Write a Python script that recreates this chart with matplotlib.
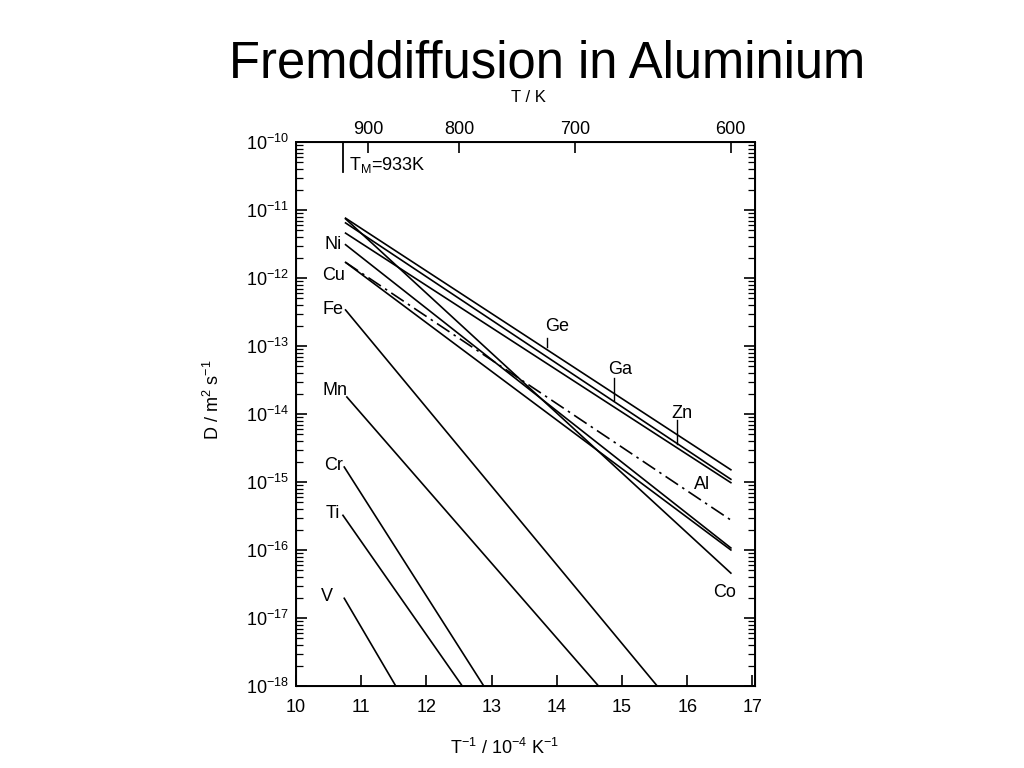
import numpy as np
import matplotlib
matplotlib.use("Agg")
import matplotlib.pyplot as plt

plt.rcParams['font.family'] = ['Liberation Sans', 'DejaVu Sans']
plt.rcParams['mathtext.fontset'] = 'custom'
plt.rcParams['mathtext.rm'] = 'Liberation Sans'
plt.rcParams['mathtext.it'] = 'Liberation Sans'

# Arrhenius lines: 1/T in 1e-4 K^-1, log10(D / m^2 s^-1)
elements = ['Ge', 'Ga', 'Zn', 'Co', 'Ni', 'Cu', 'Al', 'Fe', 'Mn', 'Cr', 'Ti', 'V']
x_start = [10.76, 10.76, 10.76, 10.76, 10.76, 10.76, 10.76, 10.76, 10.78, 10.74, 10.72, 10.74]
x_end = [16.67, 16.67, 16.67, 16.67, 16.67, 16.67, 16.67, 15.54, 14.64, 12.88, 12.55, 11.53]
logD_start = [-11.12, -11.19, -11.34, -11.13, -11.51, -11.77, -11.77, -12.47, -13.75, -14.78, -15.49, -16.71]
logD_end = [-14.82, -14.96, -15.01, -16.34, -15.97, -16.00, -15.56, -18.0, -18.0, -18.0, -18.0, -18.0]
dashed = ['Al']

# element labels (x, log10 D)
left_labels = ['Ni', 'Cu', 'Fe', 'Mn', 'Cr', 'Ti', 'V']
left_x = [10.57, 10.57, 10.57, 10.60, 10.57, 10.57, 10.48]
left_logD = [-11.51, -11.96, -12.46, -13.66, -14.75, -15.47, -16.69]
right_labels = ['Ge', 'Ga', 'Zn', 'Al', 'Co']
right_x = [14.0, 14.97, 15.92, 16.22, 16.58]
right_logD = [-12.72, -13.35, -13.99, -15.03, -16.63]
# little marker strokes on Ge, Ga, Zn
mark_x = [13.85, 14.88, 15.85]
mark_top = [-12.88, -13.47, -14.09]
mark_bot = [-13.02, -13.80, -14.44]

T_ticks = [900, 800, 700, 600]
T_melt = 933

fig = plt.figure(figsize=(10.24, 7.68), dpi=100)
ax = fig.add_axes([296/1024, 1-686/768, (755-296)/1024, (686-142)/768])

for el, x0, x1, y0, y1 in zip(elements, x_start, x_end, logD_start, logD_end):
    ls = (0, (9, 3, 1.5, 3)) if el in dashed else '-'
    ax.plot([x0, x1], [10**y0, 10**y1], color='black', lw=1.2, ls=ls)

for mx, mt, mb in zip(mark_x, mark_top, mark_bot):
    ax.plot([mx, mx], [10**mt, 10**mb], color='black', lw=1.0)

for lab, lx, ly in zip(left_labels, left_x, left_logD):
    ax.text(lx, 10**ly, lab, ha='center', va='center', fontsize=13)
for lab, lx, ly in zip(right_labels, right_x, right_logD):
    ax.text(lx, 10**ly, lab, ha='center', va='center', fontsize=13)

# melting point marker
xm = 1e4 / T_melt
ax.plot([xm, xm], [1e-10, 10**-10.44], color='black', lw=1.3)
ax.text(xm + 0.1, 10**-10.34, r'T$_\mathrm{M}$=933K', ha='left', va='center', fontsize=13)

ax.set_yscale('log')
ax.set_xlim(10, 17.04)
ax.set_ylim(1e-18, 1e-10)
ax.set_xticks(range(10, 18))
ax.set_yticks([10.0**k for k in range(-18, -9)])
ax.tick_params(which='both', direction='in', right=True, top=False, labelsize=13)
ax.tick_params(which='major', length=8, width=1.2)
ax.tick_params(which='minor', length=5, width=0.9)
ax.tick_params(axis='x', pad=9)
ax.tick_params(axis='y', pad=5)
for s in ax.spines.values():
    s.set_linewidth(1.4)

ax2 = ax.twiny()
ax2.set_xlim(ax.get_xlim())
ax2.set_xticks([1e4 / t for t in T_ticks])
ax2.set_xticklabels([str(t) for t in T_ticks])
ax2.tick_params(direction='in', length=8, width=1.2, labelsize=13, pad=3)

fig.text(528/1024, 1-97/768, 'T / K', ha='center', va='center', fontsize=12)
fig.text(547/1024, 1-77/768, 'Fremddiffusion in Aluminium', ha='center', va='baseline', fontsize=36.5)
fig.text(505/1024, 1-748/768, r'T$^{-1}$ / 10$^{-4}$ K$^{-1}$', ha='center', va='center', fontsize=13)
fig.text(213/1024, 1-400/768, r'D / m$^2$ s$^{-1}$', ha='center', va='center', fontsize=13, rotation=90)

fig.savefig('out.png', dpi=100)
